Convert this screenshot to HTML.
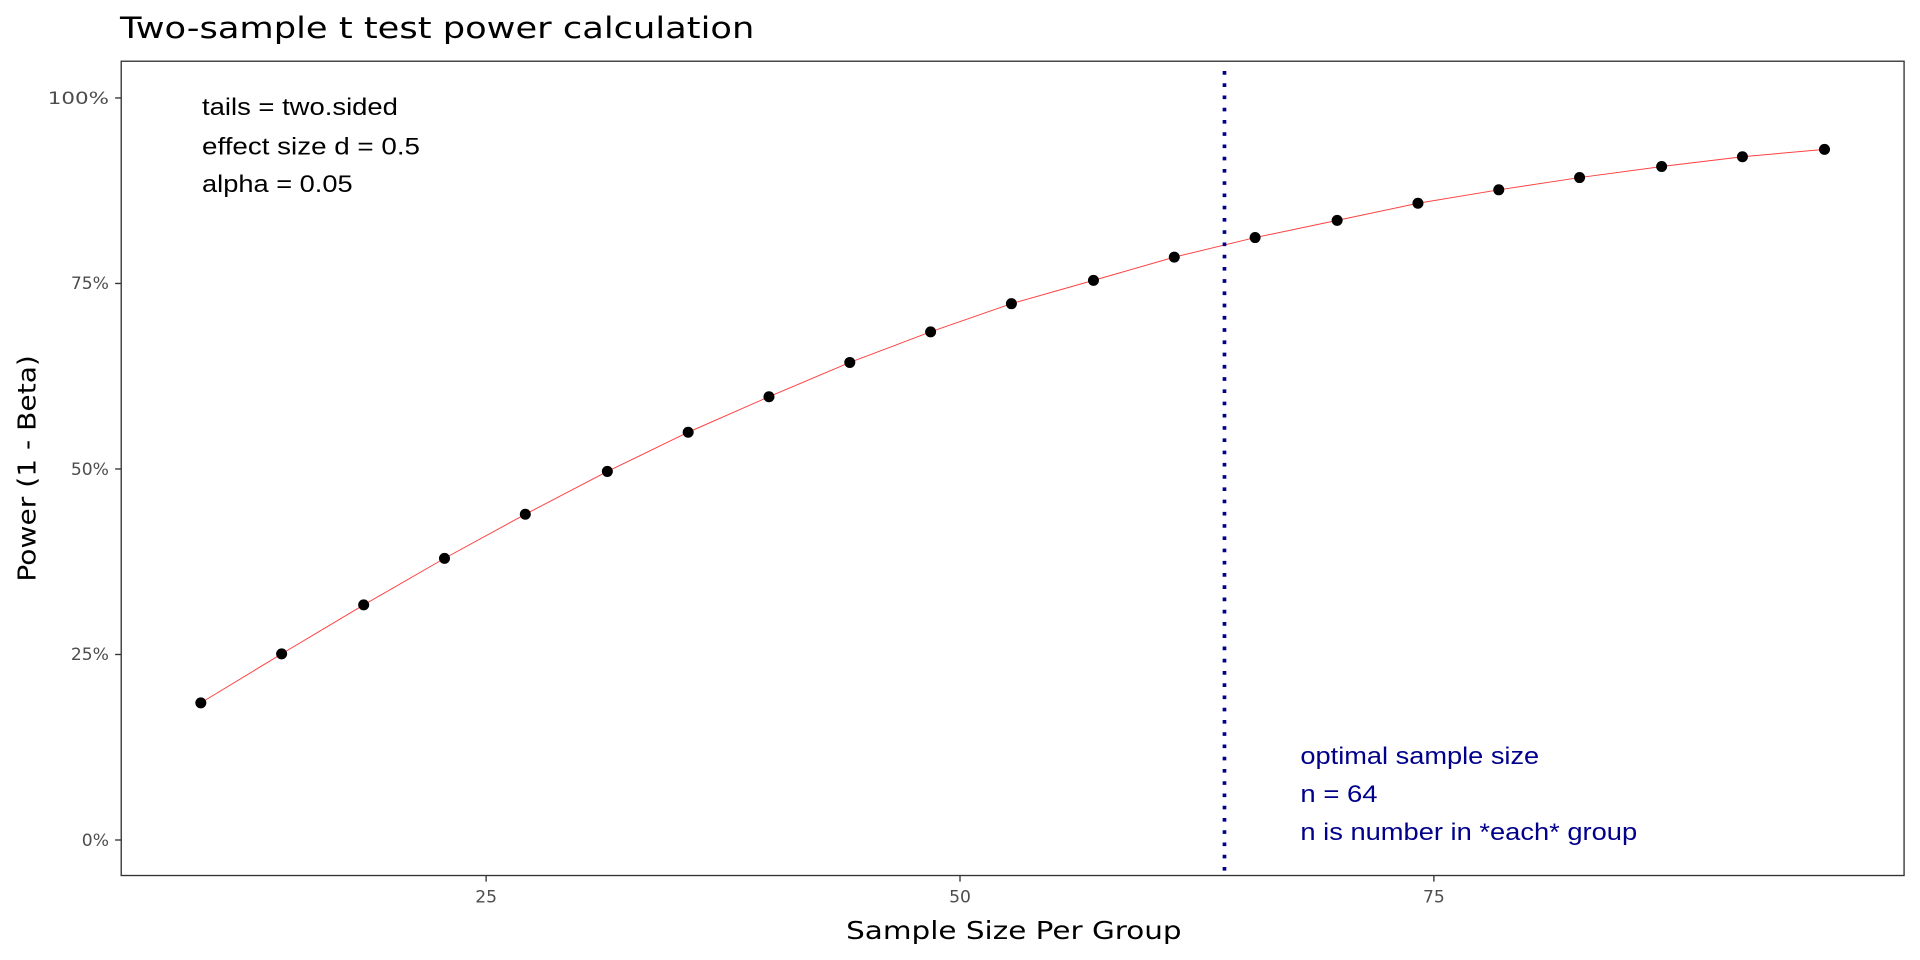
<!DOCTYPE html>
<html><head><style>html,body{margin:0;padding:0;background:#fff;}svg{display:block}</style></head><body>
<svg width="1920" height="960" viewBox="0 0 1568 784" xmlns="http://www.w3.org/2000/svg" font-family="DejaVu Sans, sans-serif">
<rect width="1568" height="784" fill="#fff"/>
<text x="98" y="31" font-size="24" fill="#000" textLength="518" lengthAdjust="spacingAndGlyphs">Two-sample t test power calculation</text>
<rect x="99" y="50" width="1456" height="665" fill="none" stroke="#333" stroke-width="1.1"/>
<g stroke="#333" stroke-width="1.1">
<line x1="94" y1="80" x2="99" y2="80"/><line x1="94" y1="231.5" x2="99" y2="231.5"/><line x1="94" y1="383" x2="99" y2="383"/><line x1="94" y1="534.5" x2="99" y2="534.5"/><line x1="94" y1="686" x2="99" y2="686"/>
<line x1="397" y1="715" x2="397" y2="720"/><line x1="784" y1="715" x2="784" y2="720"/><line x1="1171" y1="715" x2="1171" y2="720"/>
</g>
<g font-size="14" fill="#4d4d4d" text-anchor="end">
<text x="89" y="85" textLength="50" lengthAdjust="spacingAndGlyphs">100%</text><text x="89" y="236">75%</text><text x="89" y="388">50%</text><text x="89" y="539">25%</text><text x="89" y="691">0%</text>
</g>
<g font-size="14" fill="#4d4d4d" text-anchor="middle">
<text x="397" y="737">25</text><text x="784" y="737">50</text><text x="1171" y="737">75</text>
</g>
<text x="691" y="767" font-size="20" fill="#000" textLength="274" lengthAdjust="spacingAndGlyphs">Sample Size Per Group</text>
<text transform="translate(29,475) rotate(-90)" font-size="20" fill="#000" textLength="185" lengthAdjust="spacingAndGlyphs">Power (1 - Beta)</text>
<polyline fill="none" stroke="#ff4040" stroke-width="0.8" points="164,574 230,534 297,494 363,456 429,420 496,385 562,353 628,324 694,296 760,271 826,248 893,229 959,210 1025,194 1092,180 1158,166 1224,155 1290,145 1357,136 1423,128 1490,122"/>
<line x1="1000" y1="58" x2="1000" y2="715" stroke="#00008b" stroke-width="3" stroke-dasharray="3,7"/>
<g fill="#000">
<circle cx="164" cy="574" r="4.5"/><circle cx="230" cy="534" r="4.5"/><circle cx="297" cy="494" r="4.5"/><circle cx="363" cy="456" r="4.5"/><circle cx="429" cy="420" r="4.5"/><circle cx="496" cy="385" r="4.5"/><circle cx="562" cy="353" r="4.5"/><circle cx="628" cy="324" r="4.5"/><circle cx="694" cy="296" r="4.5"/><circle cx="760" cy="271" r="4.5"/><circle cx="826" cy="248" r="4.5"/><circle cx="893" cy="229" r="4.5"/><circle cx="959" cy="210" r="4.5"/><circle cx="1025" cy="194" r="4.5"/><circle cx="1092" cy="180" r="4.5"/><circle cx="1158" cy="166" r="4.5"/><circle cx="1224" cy="155" r="4.5"/><circle cx="1290" cy="145" r="4.5"/><circle cx="1357" cy="136" r="4.5"/><circle cx="1423" cy="128" r="4.5"/><circle cx="1490" cy="122" r="4.5"/>
</g>
<g font-size="20" fill="#000" font-family="Liberation Sans, sans-serif">
<text x="165" y="94" textLength="160" lengthAdjust="spacingAndGlyphs">tails = two.sided</text><text x="165" y="126" textLength="178" lengthAdjust="spacingAndGlyphs">effect size d = 0.5</text><text x="165" y="157" textLength="123" lengthAdjust="spacingAndGlyphs">alpha = 0.05</text>
</g>
<g font-size="20" fill="#00008b" font-family="Liberation Sans, sans-serif">
<text x="1062" y="624" textLength="195" lengthAdjust="spacingAndGlyphs">optimal sample size</text><text x="1062" y="655" textLength="63" lengthAdjust="spacingAndGlyphs">n = 64</text><text x="1062" y="686" textLength="275" lengthAdjust="spacingAndGlyphs">n is number in *each* group</text>
</g>
</svg>
</body></html>
